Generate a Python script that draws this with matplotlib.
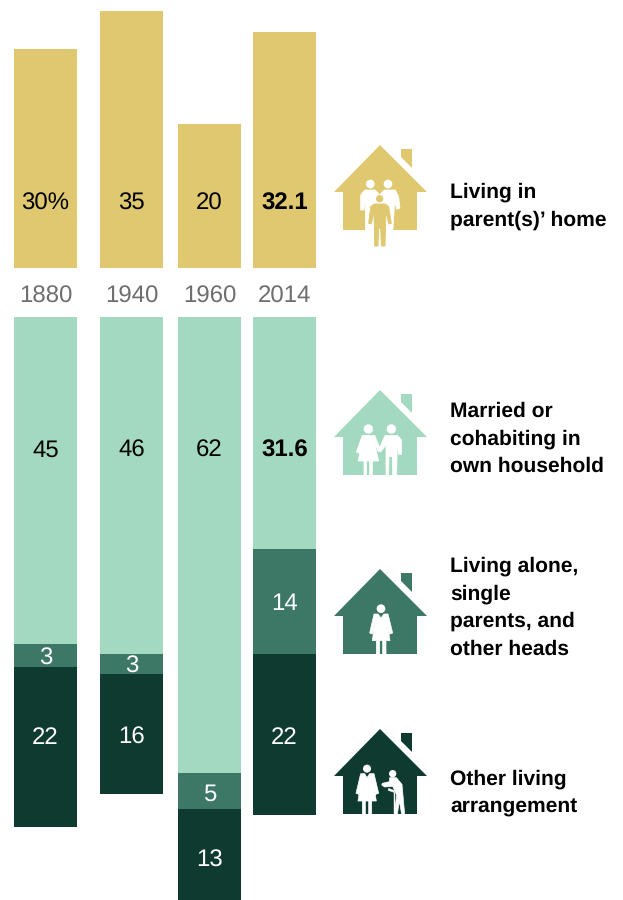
import matplotlib
matplotlib.use("Agg")
import matplotlib.pyplot as plt
from matplotlib.patches import Polygon, Circle

plt.rcParams['font.family'] = ['Liberation Sans', 'DejaVu Sans']
plt.rcParams['text.hinting'] = 'no_hinting'
plt.rcParams['text.hinting_factor'] = 1

W, H = 623, 900
PX = 7.33  # pixels per percentage point

years = ['1880', '1940', '1960', '2014']
bar_left = [14, 100, 178, 253]
bar_width = 63

parents_home = [29.9, 35.0, 19.7, 32.2]
married = [44.6, 46.0, 62.2, 31.65]
alone = [3.1, 2.7, 4.9, 14.3]
other = [21.9, 16.4, 12.4, 22.0]

parents_labels = ['30%', '35', '20', '32.1']
married_labels = ['45', '46', '62', '31.6']
alone_labels = ['3', '3', '5', '14']
other_labels = ['22', '16', '13', '22']

# label baselines in pixels from the top of the figure
parents_label_y = [210, 210, 210, 210]
married_label_y = [457, 457, 457, 457]
alone_label_y = [665, 673, 801, 610]
other_label_y = [744, 744, 867, 744]

GOLD = '#DFC86F'
MINT = '#A3D9C1'
MID = '#3D7765'
DARK = '#0F3A30'
GREY = '#6E6E6E'

fig = plt.figure(figsize=(W / 100, H / 100), dpi=100)

ax_top = fig.add_axes([0, 1 - 268 / H, 1, 268 / H])
ax_top.set_xlim(0, W)
ax_top.set_ylim(0, 268 / PX)
ax_top.axis('off')
ax_top.bar(bar_left, parents_home, width=bar_width, align='edge', color=GOLD, linewidth=0)

ax_bot = fig.add_axes([0, 0, 1, (H - 317) / H])
ax_bot.set_xlim(0, W)
ax_bot.set_ylim((H - 317) / PX, 0)
ax_bot.axis('off')
bottom = [0, 0, 0, 0]
for vals, col in ((married, MINT), (alone, MID), (other, DARK)):
    ax_bot.bar(bar_left, vals, width=bar_width, bottom=bottom, align='edge', color=col, linewidth=0)
    bottom = [b + v for b, v in zip(bottom, vals)]

ov = fig.add_axes([0, 0, 1, 1])
ov.set_xlim(0, W)
ov.set_ylim(H, 0)
ov.axis('off')
ov.patch.set_alpha(0)

NUM = 17
for i, left in enumerate(bar_left):
    cx = left + bar_width / 2
    ov.text(cx, 302.5, years[i], color=GREY, fontsize=NUM, ha='center', va='baseline')
    ov.text(cx, parents_label_y[i], parents_labels[i], color='black', fontsize=NUM,
            fontweight='bold' if i == 3 else 'normal', ha='center', va='baseline')
    ov.text(cx, married_label_y[i], married_labels[i], color='black', fontsize=NUM,
            fontweight='bold' if i == 3 else 'normal', ha='center', va='baseline')
    ov.text(cx, alone_label_y[i], alone_labels[i], color='white', fontsize=NUM, ha='center', va='baseline')
    ov.text(cx, other_label_y[i], other_labels[i], color='white', fontsize=NUM, ha='center', va='baseline')

side = [
    (['Living in', "parent(s)\u2019 home"], 198),
    (['Married or', 'cohabiting in', 'own household'], 417),
    (['Living alone,', 'single', 'parents, and', 'other heads'], 572),
    (['Other living', 'arrangement'], 785),
]
for lines, y0 in side:
    for j, s in enumerate(lines):
        ov.text(450, y0 + j * 27.5, s, fontsize=15.4, fontweight='bold', color='black',
                ha='left', va='baseline')


class Icon:
    """Draws in the units of the 3x crop, relative to the roof apex."""
    def __init__(self, apex_y, apex_zy, color):
        self.y, self.zy, self.c = apex_y, apex_zy, color
        house = [(380, apex_y), (427, apex_y + 47), (417, apex_y + 47), (417, apex_y + 85),
                 (343, apex_y + 85), (343, apex_y + 47), (334, apex_y + 47)]
        ov.add_patch(Polygon(house, closed=True, fc=color, ec='none', zorder=3))
        chim = [(401, apex_y + 4), (412, apex_y + 4), (412, apex_y + 23), (401, apex_y + 12)]
        ov.add_patch(Polygon(chim, closed=True, fc=color, ec='none', zorder=3))

    def t(self, p):
        return (380 + (p[0] - 166) / 3, self.y + (p[1] - self.zy) / 3)

    def poly(self, pts, fc='white', ec='white', lw=0.5, z=4):
        ov.add_patch(Polygon([self.t(p) for p in pts], closed=True, fc=fc, ec=ec, lw=lw, zorder=z,
                             joinstyle='round'))

    def head(self, c, r, fc='white', z=4):
        ov.add_patch(Circle(self.t(c), r / 3, fc=fc, ec='none', zorder=z))


# parents and child
ic = Icon(145, 15, GOLD)
ic.head((137, 132), 13)
ic.head((190, 132), 13)
ic.poly([(108, 165), (120, 150), (152, 150), (165, 165), (178, 150), (212, 150), (222, 170), (226, 205),
         (216, 208), (210, 185), (205, 270), (122, 270), (122, 185), (118, 210), (108, 210)])
child = [(148, 192), (182, 192), (192, 200), (200, 250), (192, 252), (184, 215), (181, 318), (170, 318),
         (168, 265), (162, 265), (160, 318), (150, 318), (148, 215), (140, 252), (132, 250), (138, 200)]
ic.head((165, 176), 14, fc='white', z=5)
ic.head((165, 176), 11, fc=GOLD, z=6)
ic.poly(child, fc='white', ec='white', lw=3.0, z=5)
ic.poly(child, fc=GOLD, ec=GOLD, lw=0.6, z=6)
ov.add_patch(Polygon([ic.t(p) for p in [(130, 272), (200, 272), (200, 325), (130, 325)]], closed=True,
                     fc='white', ec='none', zorder=5.5))

# couple
ic = Icon(390, 15, MINT)
ic.head((131, 132), 14)
ic.head((200, 132), 14)
ic.poly([(113, 151), (150, 151), (168, 195), (162, 201), (151, 178), (162, 228), (143, 228), (143, 270),
         (135, 270), (135, 228), (126, 228), (126, 270), (118, 270), (118, 228), (100, 228), (112, 178),
         (104, 205), (95, 201)])
ic.poly([(182, 151), (218, 151), (231, 165), (231, 208), (222, 208), (218, 174), (216, 270), (204, 270),
         (203, 215), (193, 215), (192, 270), (184, 270), (184, 180), (168, 201), (162, 195), (178, 158)])

# single woman
ic = Icon(569, 3, MID)
ic.head((169, 122), 13)
ic.poly([(148, 138), (160, 138), (169, 150), (178, 138), (190, 138), (204, 195), (195, 198), (188, 165),
         (196, 218), (184, 218), (184, 258), (174, 258), (174, 218), (165, 218), (165, 258), (155, 258),
         (155, 218), (143, 218), (150, 165), (143, 198), (135, 195)])

# woman and older man with cane
ic = Icon(729, 12, DARK)
ic.head((127, 131), 12)
ic.poly([(108, 146), (120, 146), (127, 158), (135, 146), (148, 146), (162, 205), (153, 208), (146, 175),
         (155, 228), (141, 228), (141, 268), (132, 268), (132, 228), (122, 228), (122, 268), (113, 268),
         (113, 228), (100, 228), (108, 175), (103, 208), (94, 205)])
ic.head((204, 146), 11)
ic.poly([(195, 158), (215, 158), (232, 178), (240, 268), (231, 268), (224, 228), (218, 268), (209, 268),
         (216, 210), (204, 184), (180, 186), (171, 180), (173, 175), (194, 170)])
ic.poly([(208, 203), (212, 203), (212, 268), (207, 268)], lw=0.3)
ic.poly([(192, 190), (210, 197), (210, 203), (190, 196)], lw=0.3)

fig.savefig('out.png', dpi=100)
